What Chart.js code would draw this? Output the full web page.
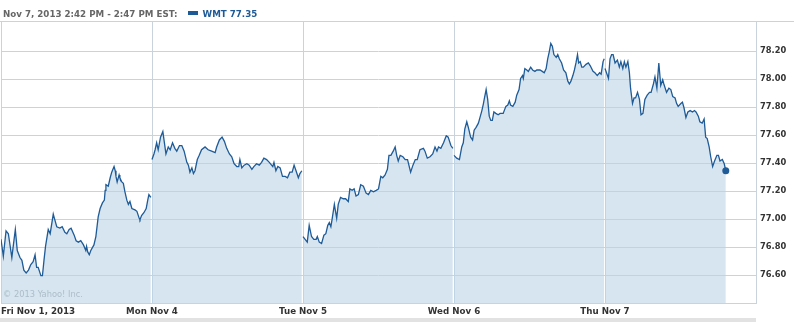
<!DOCTYPE html>
<html>
<head>
<meta charset="utf-8">
<script src="https://cdn.jsdelivr.net/npm/chart.js@4.4.0/dist/chart.umd.min.js"></script>
<style>
  body { margin: 0; background: #fff; }
  #wrap { position: relative; width: 794px; height: 322px; overflow: hidden; font-family: 'DejaVu Sans', sans-serif; }
  #chart { position: absolute; left: 0; top: 0; }
  #head { position: absolute; left: 3px; top: 8px; font-size: 8.7px; line-height: 12px; font-weight: bold; color: #666; white-space: nowrap; }
  #head .key { display: inline-block; width: 10px; height: 4px; background: #1d5a96; margin: 0 5px 0 10px; vertical-align: 2px; }
  #head .sym { color: #1d5a96; }
  #topline { position: absolute; left: 0; top: 21px; width: 794px; height: 1px; background: #c8d3dc; }
  #strip { position: absolute; left: 0; top: 318px; width: 756px; height: 4px; background: #e2e2e2; }
  #mark { position: absolute; left: 3px; top: 289px; font-size: 8.3px; color: #adbcc8; white-space: nowrap; }
</style>
</head>
<body>
<div id="wrap">
  <canvas id="chart" width="794" height="322"></canvas>
  <div id="topline"></div>
  <div id="head">Nov 7, 2013 2:42 PM - 2:47 PM EST:<span class="key"></span><span class="sym">WMT 77.35</span></div>
  <div id="mark">© 2013 Yahoo! Inc.</div>
  <div id="strip"></div>
</div>
<script>
// minutes after the 9:30 open, price
var fri = [[0,76.86],[6,76.74],[13,76.92],[19,76.90],[28,76.73],[32,76.82],[37,76.93],[42,76.78],[49,76.73],[54,76.71],[59,76.64],[65,76.62],[71,76.64],[77,76.68],[83,76.70],[88,76.75],[92,76.66],[96,76.66],[103,76.60],[107,76.60],[111,76.71],[115,76.81],[122,76.93],[127,76.90],[135,77.04],[138,77.01],[144,76.95],[152,76.94],[158,76.95],[165,76.91],[170,76.90],[176,76.93],[181,76.94],[189,76.89],[194,76.85],[200,76.84],[206,76.85],[213,76.82],[219,76.78],[221,76.81],[224,76.77],[228,76.75],[232,76.78],[240,76.82],[245,76.88],[251,77.02],[256,77.08],[262,77.12],[267,77.14],[269,77.21],[271,77.25],[277,77.24],[282,77.30],[286,77.34],[292,77.38],[295,77.35],[297,77.31],[300,77.27],[305,77.32],[307,77.30],[312,77.27],[316,77.26],[320,77.20],[325,77.14],[329,77.11],[333,77.13],[338,77.08],[346,77.07],[351,77.06],[357,77.01],[359,77.00],[363,77.03],[369,77.05],[375,77.08],[379,77.14],[382,77.18],[387,77.16]];
var mon = [[0,77.43],[5,77.47],[8,77.50],[12,77.55],[16,77.50],[22,77.59],[28,77.63],[31,77.57],[36,77.47],[42,77.52],[47,77.50],[53,77.55],[59,77.51],[64,77.49],[71,77.53],[77,77.53],[83,77.49],[90,77.41],[94,77.39],[98,77.34],[103,77.37],[107,77.33],[111,77.35],[117,77.43],[122,77.46],[128,77.50],[137,77.52],[145,77.50],[154,77.49],[163,77.48],[167,77.52],[174,77.57],[181,77.59],[187,77.56],[193,77.51],[200,77.47],[206,77.45],[212,77.40],[219,77.38],[224,77.38],[227,77.43],[232,77.37],[238,77.39],[245,77.40],[251,77.39],[258,77.36],[263,77.38],[270,77.40],[277,77.39],[283,77.41],[289,77.44],[296,77.43],[303,77.41],[312,77.38],[315,77.41],[320,77.35],[325,77.38],[331,77.37],[337,77.31],[344,77.31],[350,77.30],[356,77.34],[362,77.34],[367,77.39],[372,77.35],[378,77.30],[382,77.33],[387,77.35]];
var tue = [[0,76.88],[11,76.84],[16,76.96],[22,76.88],[28,76.86],[34,76.86],[37,76.88],[42,76.84],[48,76.83],[54,76.89],[59,76.90],[64,76.96],[68,76.98],[72,76.95],[75,77.00],[81,77.11],[87,77.01],[91,77.11],[97,77.16],[104,77.15],[110,77.15],[117,77.13],[121,77.22],[127,77.21],[132,77.22],[137,77.17],[143,77.18],[149,77.25],[156,77.24],[163,77.19],[169,77.18],[175,77.21],[182,77.20],[189,77.21],[195,77.22],[201,77.31],[206,77.30],[212,77.32],[218,77.36],[222,77.46],[227,77.46],[233,77.49],[238,77.52],[242,77.46],[246,77.42],[251,77.46],[258,77.45],[264,77.43],[270,77.43],[278,77.34],[284,77.39],[290,77.43],[295,77.43],[302,77.50],[311,77.51],[315,77.49],[321,77.44],[328,77.45],[335,77.47],[341,77.52],[346,77.49],[350,77.52],[356,77.51],[363,77.55],[370,77.60],[375,77.59],[382,77.53],[387,77.51]];
var wed = [[0,77.46],[7,77.44],[14,77.43],[20,77.52],[24,77.55],[28,77.65],[33,77.70],[37,77.66],[43,77.59],[48,77.57],[52,77.64],[57,77.66],[63,77.69],[67,77.73],[72,77.78],[76,77.83],[78,77.86],[83,77.93],[87,77.86],[91,77.74],[95,77.71],[99,77.71],[103,77.77],[108,77.76],[114,77.75],[119,77.76],[127,77.76],[134,77.81],[139,77.82],[143,77.85],[146,77.82],[152,77.81],[158,77.84],[162,77.89],[168,77.93],[172,78.01],[177,78.03],[179,78.01],[183,78.08],[188,78.07],[192,78.06],[198,78.09],[203,78.07],[209,78.06],[214,78.07],[222,78.07],[228,78.06],[233,78.05],[238,78.08],[242,78.15],[246,78.20],[250,78.26],[254,78.24],[258,78.18],[264,78.16],[268,78.18],[272,78.15],[278,78.12],[283,78.07],[289,78.05],[294,77.99],[298,77.97],[302,77.99],[307,78.03],[311,78.07],[315,78.12],[319,78.18],[322,78.12],[326,78.13],[330,78.09],[334,78.09],[341,78.11],[347,78.12],[352,78.10],[359,78.06],[364,78.05],[370,78.03],[376,78.05],[380,78.04],[385,78.13],[388,78.15]];
var thu = [[0,78.08],[9,78.01],[13,78.15],[17,78.18],[21,78.18],[26,78.12],[32,78.14],[37,78.09],[41,78.13],[46,78.08],[50,78.13],[54,78.09],[59,78.13],[63,78.05],[66,77.94],[71,77.83],[75,77.87],[79,77.87],[84,77.91],[89,77.86],[93,77.75],[98,77.76],[103,77.86],[109,77.89],[115,77.91],[119,77.91],[125,77.97],[129,78.02],[134,77.94],[139,78.12],[144,77.96],[149,78.00],[152,77.97],[159,77.91],[165,77.94],[170,77.93],[175,77.88],[181,77.87],[185,77.83],[189,77.81],[196,77.83],[200,77.84],[204,77.80],[209,77.73],[214,77.77],[220,77.78],[226,77.77],[231,77.78],[235,77.77],[241,77.74],[245,77.70],[251,77.69],[256,77.72],[260,77.59],[264,77.58],[269,77.52],[273,77.45],[278,77.38],[283,77.42],[289,77.46],[293,77.46],[297,77.42],[303,77.43],[308,77.40],[312,77.35]];

var days = [fri, mon, tue, wed, thu];
var sessionLen = 390;
var xTicks = [0, 390, 780, 1170, 1560, 1950];
var xLabels = ["Fri Nov 1, 2013", "Mon Nov 4", "Tue Nov 5", "Wed Nov 6", "Thu Nov 7", ""];
var yTicks = [76.6, 76.8, 77.0, 77.2, 77.4, 77.6, 77.8, 78.0, 78.2];

var points = [];
days.forEach(function (day, d) {
    day.forEach(function (p) {
        points.push({ x: d * sessionLen + p[0], y: p[1] });
    });
    if (d < days.length - 1) points.push({ x: d * sessionLen + 389, y: null });
});
var lastIndex = points.length - 1;

var blue = "#1f5b97";
var gridColor = "#c8d3dc";

new Chart(document.getElementById("chart"), {
    type: "line",
    data: {
        datasets: [{
            data: points,
            borderColor: blue,
            borderWidth: 1.3,
            backgroundColor: "rgba(187,212,230,0.6)",
            fill: "start",
            tension: 0,
            spanGaps: false,
            pointRadius: function (ctx) { return ctx.dataIndex === lastIndex ? 3.5 : 0; },
            pointBackgroundColor: blue,
            pointBorderWidth: 0
        }]
    },
    options: {
        responsive: false,
        animation: false,
        layout: { autoPadding: false, padding: { top: 21, left: 1, right: 0, bottom: 0 } },
        plugins: { legend: { display: false }, tooltip: { enabled: false } },
        scales: {
            x: {
                type: "linear",
                position: "bottom",
                min: 0,
                max: 1950,
                afterBuildTicks: function (s) { s.ticks = xTicks.map(function (v) { return { value: v }; }); },
                afterFit: function (s) { s.height = 19; },
                ticks: {
                    autoSkip: false,
                    maxRotation: 0,
                    align: "inner",
                    padding: 0,
                    color: "#333",
                    font: { family: "'DejaVu Sans', sans-serif", size: 8.7, weight: "bold", lineHeight: "18px" },
                    callback: function (v, i) { return xLabels[i]; }
                },
                grid: { color: gridColor, drawTicks: false },
                border: { color: gridColor }
            },
            y: {
                type: "linear",
                position: "right",
                min: 76.405,
                max: 78.42,
                afterBuildTicks: function (s) { s.ticks = yTicks.map(function (v) { return { value: v }; }); },
                afterFit: function (s) { s.width = 38; },
                ticks: {
                    padding: 4,
                    labelOffset: -1,
                    color: "#333",
                    font: { family: "'DejaVu Sans', sans-serif", size: 8.3, weight: "bold" },
                    callback: function (v) { return v.toFixed(2); }
                },
                grid: { color: gridColor, drawTicks: false },
                border: { color: gridColor }
            }
        }
    }
});
</script>
</body>
</html>
